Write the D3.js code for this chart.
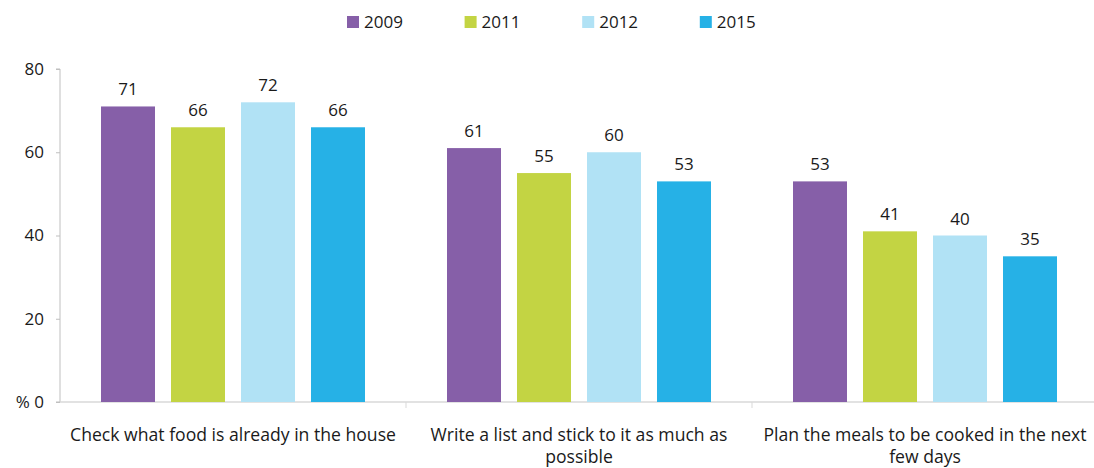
<!DOCTYPE html>
<html>
<head>
<meta charset="utf-8">
<script src="https://cdn.jsdelivr.net/npm/d3@7"></script>
<style>
  html, body { margin: 0; padding: 0; background: #fff; }
  svg text { font-family: "Open Sans", Lato, sans-serif; fill: #1a1a1a; }
</style>
</head>
<body>
<svg id="chart" width="1094" height="468"></svg>
<script>
// Planning habits before food shopping, share of respondents (%)
const categories = [
  "Check what food is already in the house",
  "Write a list and stick to it as much as possible",
  "Plan the meals to be cooked in the next few days"
];
const years = ["2009", "2011", "2012", "2015"];
const values2009 = [71, 61, 53];
const values2011 = [66, 55, 41];
const values2012 = [72, 60, 40];
const values2015 = [66, 53, 35];
const yTicks = [0, 20, 40, 60, 80];
const colors = ["#865fa8", "#c3d443", "#b1e2f5", "#26b1e6"];

const seriesValues = [values2009, values2011, values2012, values2015];

const svg = d3.select("#chart");
const numSize = 17;
const labelSize = 17.6;

const x = d3.scaleBand().domain(categories).range([60, 1098]).padding(0);
const bw = x.bandwidth();
const inner = d3.scaleBand().domain(years)
  .range([(bw - 264) / 2, (bw + 264) / 2])
  .paddingInner(16 / 70).paddingOuter(0);
const y = d3.scaleLinear().domain([0, 80]).range([402, 69]);

// value axis
const yAxis = svg.append("g").attr("transform", "translate(60,0)")
  .call(d3.axisLeft(y).tickValues(yTicks).tickSize(4).tickPadding(12)
    .tickFormat(d => d === 0 ? "% 0" : d));
yAxis.select(".domain").attr("stroke", "#bfbfbf").attr("d", "M-4,69H0V402H-4");
yAxis.selectAll(".tick line").attr("stroke", "#bfbfbf");
yAxis.selectAll(".tick text").style("font-size", numSize + "px").attr("fill", "#1a1a1a");

// category axis
const xAxis = svg.append("g").attr("transform", "translate(0,402)");
xAxis.append("line").attr("x1", 60).attr("x2", 1098).attr("y1", 0).attr("y2", 0)
  .attr("stroke", "#d9d9d9").attr("stroke-width", 1.5);
xAxis.selectAll("line.sep").data(categories.slice(1)).join("line")
  .attr("class", "sep")
  .attr("x1", d => x(d)).attr("x2", d => x(d))
  .attr("y1", 0).attr("y2", 6).attr("stroke", "#d9d9d9");

// category labels, wrapped to fit the band
function wrap(textSel, width) {
  textSel.each(function () {
    const t = d3.select(this);
    const words = t.text().split(/\s+/);
    t.text(null);
    const cx = +t.attr("x");
    let line = [];
    let ts = t.append("tspan").attr("x", cx).attr("dy", 0);
    for (const w of words) {
      line.push(w);
      ts.text(line.join(" "));
      if (ts.node().getComputedTextLength() > width && line.length > 1) {
        line.pop();
        ts.text(line.join(" "));
        line = [w];
        ts = t.append("tspan").attr("x", cx).attr("dy", 22).text(w);
      }
    }
  });
}
svg.append("g").selectAll("text").data(categories).join("text")
  .attr("x", d => x(d) + bw / 2).attr("y", 441)
  .attr("text-anchor", "middle").style("font-size", labelSize + "px")
  .text(d => d)
  .call(wrap, 340);

// bars
const groups = svg.append("g").selectAll("g").data(years).join("g")
  .attr("fill", (d, i) => colors[i]);
groups.selectAll("rect").data((yr, i) => categories.map((c, j) => ({ c, yr, v: seriesValues[i][j] })))
  .join("rect")
  .attr("x", d => x(d.c) + inner(d.yr))
  .attr("width", inner.bandwidth())
  .attr("y", d => y(d.v))
  .attr("height", d => y(0) - y(d.v));

// value labels
groups.selectAll("text").data((yr, i) => categories.map((c, j) => ({ c, yr, v: seriesValues[i][j] })))
  .join("text")
  .attr("x", d => x(d.c) + inner(d.yr) + inner.bandwidth() / 2)
  .attr("y", d => y(d.v) - 11)
  .attr("text-anchor", "middle").style("font-size", numSize + "px")
  .attr("fill", "#1a1a1a")
  .text(d => d.v);

// legend
const legend = svg.append("g").selectAll("g").data(years).join("g")
  .attr("transform", (d, i) => `translate(${347 + i * 117.6},16)`);
legend.append("rect").attr("width", 12).attr("height", 12).attr("fill", (d, i) => colors[i]);
legend.append("text").attr("x", 17).attr("y", 12).style("font-size", numSize + "px").text(d => d);
</script>
</body>
</html>
